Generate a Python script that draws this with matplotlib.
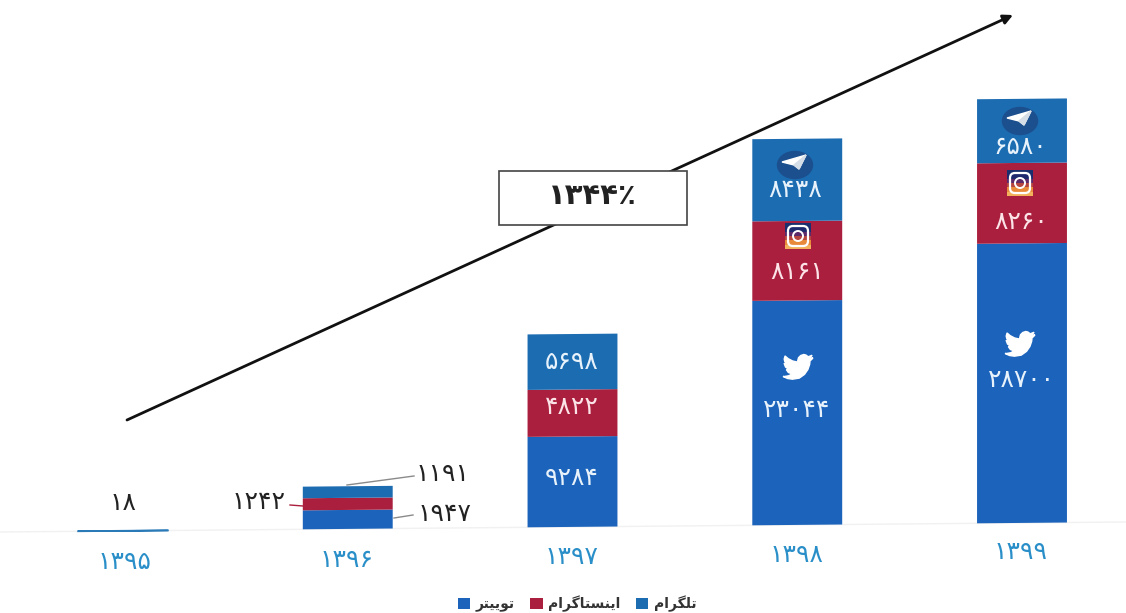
import matplotlib
matplotlib.use("Agg")
import matplotlib.pyplot as plt
from matplotlib.patches import Rectangle, Circle, Ellipse, Polygon, FancyBboxPatch
from matplotlib.transforms import Affine2D

# data
years = [1395, 1396, 1397, 1398, 1399]
twitter = [18, 1947, 9284, 23044, 28700]
instagram = [0, 1242, 4822, 8161, 8260]
telegram = [0, 1191, 5698, 8438, 6580]
growth = 1344

# the words are written with presentation forms in visual order,
# matplotlib does no arabic shaping by itself
name_twitter = "\uFEAE\uFE98\uFBFF\uFBFE\uFEEE\uFE97"
name_instagram = "\uFEE1\uFE8D\uFEAE\uFB94\uFE8E\uFE98\uFEB4\uFEE8\uFBFE\uFE8D"
name_telegram = "\uFEE1\uFE8D\uFEAE\uFB95\uFEE0\uFE97"

BLUE = "#1b63bb"
TEAL = "#1c6cb2"
RED = "#aa1f3d"
W, H = 1126, 613
SLOT = 224.75        # px between two bars
X0 = 123             # px of first bar
Y0 = 532             # px of the baseline on the left edge
SCALE = 0.00974      # px per unit
TILT = 8 / 900       # the scan is a bit rotated
LABEL_SIZE = 18


def fa(n):
    return str(n).translate(str.maketrans("0123456789", "۰۱۲۳۴۵۶۷۸۹"))


plt.rcParams['font.family'] = ['DejaVu Sans']
fig = plt.figure(figsize=(W / 100, H / 100), dpi=100)
ax = fig.add_axes([0, 0, 1, 1])
ax.axis("off")

tilted = ax.transData + Affine2D.from_values(1, TILT, 0, 1, 0, 0)
pix = Affine2D().scale(1 / W, -1 / H).translate(0, 1) + ax.transAxes

x = range(len(years))
b1 = [a + b for a, b in zip(twitter, instagram)]
bars_t = ax.bar(x, twitter, width=0.4, color=BLUE, transform=tilted, label=name_twitter)
bars_i = ax.bar(x, instagram, bottom=twitter, width=0.4, color=RED, transform=tilted, label=name_instagram)
bars_g = ax.bar(x, telegram, bottom=b1, width=0.4, color=TEAL, transform=tilted, label=name_telegram)

ax.set_xlim(-X0 / SLOT, (W - X0) / SLOT)
ax.set_ylim(-(H - Y0) / SCALE, Y0 / SCALE)
ax.plot([-X0 / SLOT, (W - X0) / SLOT], [0, 0], color="#f1f1f1", lw=1, transform=tilted, zorder=0)

# year labels
year_pos = [(125, 562), (347, 560), (572, 557), (797, 555), (1021, 552)]
for yr, (px, py) in zip(years, year_pos):
    ax.text(px, py, fa(yr), transform=pix, ha="center", va="center", fontsize=LABEL_SIZE, color="#2a8fc8")

# labels inside the bars
inside = [
    (twitter[2], 572, 478), (instagram[2], 572, 407), (telegram[2], 572, 362),
    (twitter[3], 797, 410), (instagram[3], 797, 272), (telegram[3], 795, 190),
    (twitter[4], 1021, 380), (instagram[4], 1021, 222), (telegram[4], 1020, 147),
]
for val, px, py in inside:
    ax.text(px, py, fa(val), transform=pix, ha="center", va="center", fontsize=LABEL_SIZE,
            color="#fbe3e8" if val in instagram else "#e8f2fb")

# labels outside
ax.text(123, 503, fa(twitter[0]), transform=pix, ha="center", va="center", fontsize=LABEL_SIZE, color="#222222")
ax.text(443, 474, fa(telegram[1]), transform=pix, ha="center", va="center", fontsize=LABEL_SIZE, color="#222222")
ax.text(259, 502, fa(instagram[1]), transform=pix, ha="center", va="center", fontsize=LABEL_SIZE, color="#222222")
ax.text(445, 514, fa(twitter[1]), transform=pix, ha="center", va="center", fontsize=LABEL_SIZE, color="#222222")
ax.plot([347, 414], [485, 476], color="#8a8a8a", lw=1, transform=pix)
ax.plot([290, 303], [505, 506], color=RED, lw=1, transform=pix)
ax.plot([394, 413], [518, 515], color="#8a8a8a", lw=1, transform=pix)

# growth arrow and box
ax.annotate("", xy=(1013, 15), xytext=(127, 420), xycoords=pix, textcoords=pix,
            arrowprops=dict(arrowstyle="-|>", color="#111111", lw=2, shrinkA=0, shrinkB=0, mutation_scale=14),
            zorder=6)
ax.add_patch(Rectangle((499, 171), 188, 54, transform=pix, facecolor="white", edgecolor="#444444", lw=1.2, zorder=7))
ax.text(592, 196, fa(growth) + "\u066A", transform=pix, ha="center", va="center", fontsize=21,
        fontweight="bold", color="#222222", zorder=8)


# icons
def telegram_icon(cx, cy):
    ax.add_patch(Ellipse((cx, cy), 35, 27, transform=pix, color="#1b4f8e", zorder=4))
    ax.add_patch(Polygon([(cx - 13, cy - 3), (cx + 11, cy - 10), (cx + 4, cy + 4), (cx - 1, cy)],
                         transform=pix, color="white", zorder=5))
    ax.add_patch(Polygon([(cx - 1, cy), (cx + 11, cy - 10), (cx + 4, cy + 4)],
                         transform=pix, color="#d5dde6", zorder=5))


def instagram_icon(cx, cy):
    strips = ["#1a2f6e", "#1f2a6e", "#5a2a6a", "#b5453f", "#e88a3a", "#f2b15a"]
    for i, col in enumerate(strips):
        ax.add_patch(Rectangle((cx - 13, cy - 13 + i * 26 / 6), 26, 26 / 6 + 0.5, transform=pix,
                               color=col, lw=0, zorder=4))
    ax.add_patch(FancyBboxPatch((cx - 10, cy - 10), 20, 20, boxstyle="round,pad=0,rounding_size=5", transform=pix,
                                facecolor="none", edgecolor="white", lw=1.6, zorder=5))
    ax.add_patch(Circle((cx, cy), 5, transform=pix, facecolor="none", edgecolor="white", lw=1.4, zorder=5))


bird = [(23.95, 4.57), (21.13, 5.35), (23.29, 2.62), (20.16, 3.81), (18.3, 2.4), (16.6, 2.0), (14.2, 2.8),
        (12.4, 4.6), (11.8, 6.9), (11.9, 8.1), (7.7, 7.2), (4.1, 5.3), (1.64, 3.16), (0.97, 5.64), (1.4, 7.6),
        (3.16, 9.73), (0.93, 9.12), (0.93, 9.18), (2.0, 12.0), (4.88, 14.0), (2.67, 14.09), (4.3, 16.4),
        (7.27, 17.5), (4.6, 19.0), (1.17, 19.6), (0, 19.54), (3.6, 21.2), (7.56, 21.75), (13, 20.9),
        (17.2, 17.9), (19.9, 14.0), (21.3, 10.0), (21.55, 7.77), (21.54, 7.14), (23.0, 5.9)]


def twitter_icon(cx, cy):
    s = 30 / 24
    ax.add_patch(Polygon([(cx + (a - 12) * s, cy + (b - 12) * s) for a, b in bird],
                         transform=pix, color="white", zorder=5))


telegram_icon(795, 165)
telegram_icon(1020, 121)
instagram_icon(798, 236)
instagram_icon(1020, 183)
twitter_icon(798, 367)
twitter_icon(1020, 344)

# legend
leg = ax.legend(handles=[bars_t, bars_i, bars_g], ncol=3, frameon=False,
                bbox_to_anchor=(577 / W, 1 - 604 / H), loc="center",
                prop=dict(size=10, weight="bold"), labelcolor="#333333",
                handlelength=0.9, handleheight=0.9, handletextpad=0.4, columnspacing=1.1)

# the 18 bar is too thin to show otherwise, set after the legend so the key stays plain
bars_t[0].set_edgecolor("#2a7ab8")
bars_t[0].set_linewidth(1.2)

fig.savefig("out.png", dpi=100)
